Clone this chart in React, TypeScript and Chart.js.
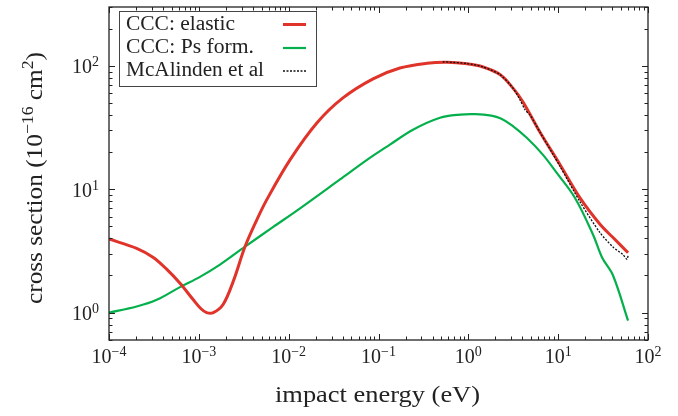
import React, { useEffect, useRef } from "react";
import { Chart, registerables } from "chart.js";

Chart.register(...registerables);

// ---- data ----
const elasticE = [1e-4, 2.03e-4, 3.11e-4, 4.38e-4, 6.17e-4, 8.68e-4, 1.05e-3, 1.22e-3, 1.45e-3, 1.87e-3, 2.42e-3, 3.27e-3, 4.41e-3, 5.69e-3, 1.035e-2, 2.07e-2, 4.02e-2, 8.7e-2, 0.173, 0.347, 0.579, 0.966, 1.46, 2.25, 3.14, 4.06, 6.28, 10.5, 17.5, 29.2, 40.8, 60];
const elasticS = [3.95, 3.32, 2.8, 2.25, 1.73, 1.27, 1.08, 1.0, 1.0, 1.17, 1.8, 3.43, 5.63, 8.2, 17.3, 34.6, 55, 78.5, 96, 105, 107, 104, 98, 85, 66, 51, 29, 15.8, 8.5, 5.2, 4.06, 3.06];

const psE = [1e-4, 2.03e-4, 3.4e-4, 6.17e-4, 1.03e-3, 1.72e-3, 3.27e-3, 6.74e-3, 1.34e-2, 3.73e-2, 7.45e-2, 0.134, 0.242, 0.484, 0.807, 1.2, 1.8, 2.3, 3.06, 4.5, 6.78, 9.7, 15.4, 24.4, 30.8, 40.8, 60];
const psS = [1.0, 1.12, 1.27, 1.61, 1.95, 2.45, 3.43, 4.95, 7.0, 12.0, 17.3, 23, 30.4, 38, 40.3, 40.6, 39.5, 37.5, 33, 26, 19, 13.5, 8.5, 4.3, 2.8, 2.0, 0.86];

const mcE = [0.52, 0.966, 1.46, 2.25, 3.14, 3.76, 4.28, 4.86, 6.28, 10.5, 17.5, 29.2, 40.8, 52.7, 58.4, 60];
const mcS = [108, 104.5, 98, 85, 66, 53, 44, 40, 29, 15.3, 7.9, 4.45, 3.4, 2.95, 2.7, 2.9];

const seriesLabels = ["CCC: elastic", "CCC: Ps form.", "McAlinden et al"];
const seriesColors = ["#e0332a", "#05b04c", "#111111"];
const xTickExps = [-4, -3, -2, -1, 0, 1, 2];
const yTickExps = [0, 1, 2];
const X_MIN = 1e-4;
const X_MAX = 100;
const Y_MIN = 0.6;
const Y_MAX = 300;

const FONT = '"Liberation Serif", "Times New Roman", serif';
const TEXT_COLOR = "#222";

type Seg = { t: string; sup?: boolean };

function measureRich(ctx: CanvasRenderingContext2D, segs: Seg[], size: number) {
  return segs.map((s) => {
    ctx.font = `${s.sup ? size * 0.7 : size}px ${FONT}`;
    return ctx.measureText(s.t).width;
  });
}

function drawRich(
  ctx: CanvasRenderingContext2D,
  segs: Seg[],
  x: number,
  y: number,
  size: number,
  align: "left" | "center" | "right",
  targetWidth?: number
) {
  const widths = measureRich(ctx, segs, size);
  const natural = widths.reduce((a, b) => a + b, 0);
  const stretch = targetWidth ? targetWidth / natural : 1;
  const total = natural * stretch;
  const start = align === "left" ? x : align === "center" ? x - total / 2 : x - total;
  ctx.save();
  ctx.translate(start, y);
  ctx.scale(stretch, 1);
  ctx.fillStyle = TEXT_COLOR;
  ctx.textAlign = "left";
  ctx.textBaseline = "alphabetic";
  let cx = 0;
  segs.forEach((s, i) => {
    ctx.font = `${s.sup ? size * 0.7 : size}px ${FONT}`;
    ctx.fillText(s.t, cx, s.sup ? -size * 0.36 : 0);
    cx += widths[i];
  });
  ctx.restore();
}

function supDigits(e: number): string {
  return e < 0 ? "\u2212" + String(-e) : String(e);
}

const framePlugin = {
  id: "frame",
  afterDraw(chart: any) {
    const ctx: CanvasRenderingContext2D = chart.ctx;
    const { left, right, top, bottom } = chart.chartArea;
    const xs = chart.scales.x;
    const ys = chart.scales.y;
    ctx.save();
    // frame
    ctx.strokeStyle = "#222";
    ctx.lineWidth = 1.3;
    ctx.strokeRect(left, top, right - left, bottom - top);
    // ticks (inward, all four sides)
    ctx.lineWidth = 1;
    ctx.beginPath();
    for (let d = -5; d <= 3; d++) {
      for (let k = 1; k <= 9; k++) {
        const v = k * Math.pow(10, d);
        const len = k === 1 ? 6 : 3.5;
        if (v >= X_MIN * 0.999 && v <= X_MAX * 1.001) {
          const px = Math.round(xs.getPixelForValue(v)) + 0.5;
          ctx.moveTo(px, bottom);
          ctx.lineTo(px, bottom - len);
          ctx.moveTo(px, top);
          ctx.lineTo(px, top + len);
        }
        if (v >= Y_MIN * 0.999 && v <= Y_MAX * 1.001) {
          const py = Math.round(ys.getPixelForValue(v)) + 0.5;
          ctx.moveTo(left, py);
          ctx.lineTo(left + len, py);
          ctx.moveTo(right, py);
          ctx.lineTo(right - len, py);
        }
      }
    }
    ctx.stroke();

    // tick labels
    xTickExps.forEach((e) => {
      const px = xs.getPixelForValue(Math.pow(10, e));
      drawRich(ctx, [{ t: "10" }, { t: supDigits(e), sup: true }], px, bottom + 23, 20, "center");
    });
    yTickExps.forEach((e) => {
      const py = ys.getPixelForValue(Math.pow(10, e));
      drawRich(ctx, [{ t: "10" }, { t: supDigits(e), sup: true }], left - 10, py + 7.5, 20, "right");
    });

    // axis titles
    drawRich(ctx, [{ t: "impact energy (eV)" }], (left + right) / 2 - 1, 402, 24, "center", 205);
    ctx.save();
    ctx.translate(42, 178);
    ctx.rotate(-Math.PI / 2);
    drawRich(
      ctx,
      [{ t: "cross section (10" }, { t: "\u221216", sup: true }, { t: " cm" }, { t: "2", sup: true }, { t: ")" }],
      0,
      0,
      24,
      "center",
      252
    );
    ctx.restore();

    // legend
    const bx = 119.5, by = 11.5, bw = 197, bh = 75;
    ctx.fillStyle = "#fff";
    ctx.fillRect(bx, by, bw, bh);
    ctx.strokeStyle = "#444";
    ctx.lineWidth = 1;
    ctx.strokeRect(bx, by, bw, bh);
    const baselines = [29.5, 53, 76];
    const lineYs = [24.5, 48, 71];
    const widthsT = [109, 128, 138];
    seriesLabels.forEach((lab, i) => {
      drawRich(ctx, [{ t: lab }], 126, baselines[i], 20, "left", widthsT[i]);
      ctx.beginPath();
      ctx.strokeStyle = seriesColors[i];
      if (i === 0) { ctx.lineWidth = 3; ctx.setLineDash([]); }
      else if (i === 1) { ctx.lineWidth = 2.2; ctx.setLineDash([]); }
      else { ctx.lineWidth = 1.3; ctx.setLineDash([2, 1.5]); }
      ctx.moveTo(283, lineYs[i]);
      ctx.lineTo(306, lineYs[i]);
      ctx.stroke();
      ctx.setLineDash([]);
    });
    ctx.restore();
  },
};

function toPoints(xs: number[], ys: number[]) {
  return xs.map((x, i) => ({ x, y: ys[i] }));
}

export default function App() {
  const ref = useRef<HTMLCanvasElement | null>(null);
  useEffect(() => {
    document.body.style.margin = "0";
    const canvas = ref.current;
    if (!canvas) return;
    const chart = new Chart(canvas, {
      type: "line",
      data: {
        datasets: [
          {
            label: seriesLabels[2],
            data: toPoints(mcE, mcS),
            borderColor: seriesColors[2],
            borderWidth: 1.3,
            borderDash: [2, 1.5],
            pointRadius: 0,
            tension: 0.25,
            order: 0,
          },
          {
            label: seriesLabels[0],
            data: toPoints(elasticE, elasticS),
            borderColor: seriesColors[0],
            borderWidth: 3,
            pointRadius: 0,
            tension: 0.35,
            order: 1,
          },
          {
            label: seriesLabels[1],
            data: toPoints(psE, psS),
            borderColor: seriesColors[1],
            borderWidth: 2.2,
            pointRadius: 0,
            tension: 0.35,
            order: 2,
          },
        ],
      },
      options: {
        animation: false,
        responsive: false,
        devicePixelRatio: 1,
        layout: { padding: { left: 0, right: 30, top: 7, bottom: 0 } },
        plugins: { legend: { display: false }, tooltip: { enabled: false } },
        events: [],
        scales: {
          x: {
            type: "logarithmic",
            min: X_MIN,
            max: X_MAX,
            grid: { display: false },
            border: { display: false },
            ticks: { display: false },
            afterFit: (s: any) => { s.height = 76; },
          },
          y: {
            type: "logarithmic",
            min: Y_MIN,
            max: Y_MAX,
            grid: { display: false },
            border: { display: false },
            ticks: { display: false },
            afterFit: (s: any) => { s.width = 109; },
          },
        },
      } as any,
      plugins: [framePlugin],
    });
    return () => chart.destroy();
  }, []);
  return (
    <div style={{ width: 678, height: 416 }}>
      <canvas ref={ref} width={678} height={416} style={{ display: "block" }} />
    </div>
  );
}
